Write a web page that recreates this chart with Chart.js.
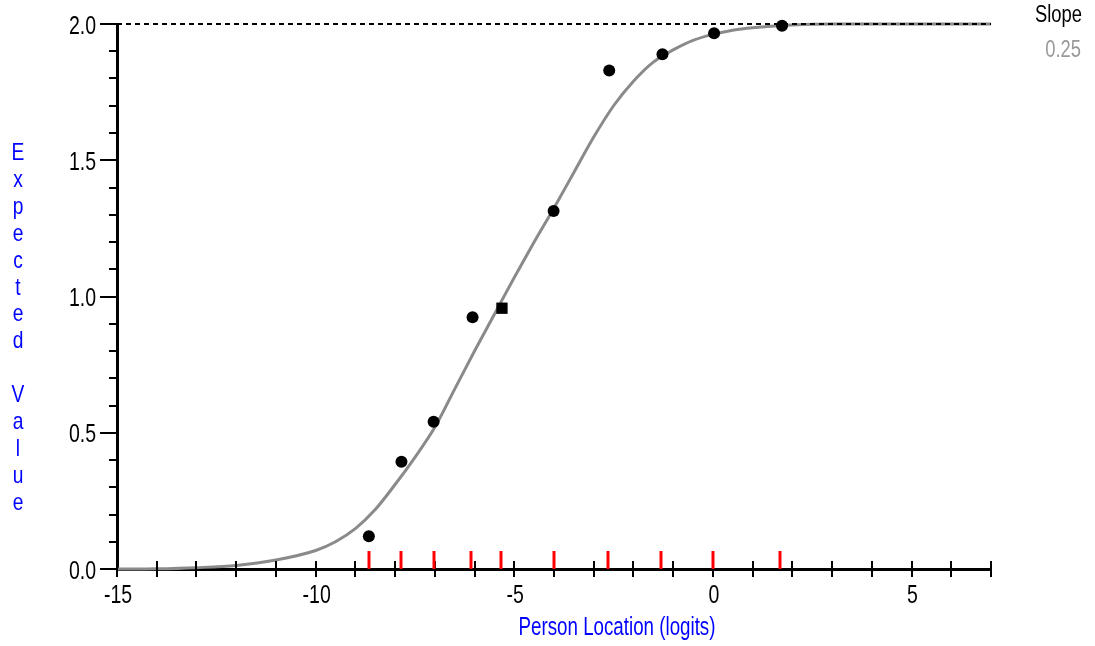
<!DOCTYPE html>
<html>
<head>
<meta charset="utf-8">
<script src="https://cdn.jsdelivr.net/npm/chart.js@4.4.1/dist/chart.umd.min.js"></script>
<style>
  html, body { margin: 0; padding: 0; background: #ffffff; }
  #wrap { width: 1095px; height: 646px; }
</style>
</head>
<body>
<div id="wrap"><canvas id="c" width="1095" height="646"></canvas></div>
<script>
// ---- data ----
const curveX = [-15, -14, -13, -12, -11, -10, -9.5, -9, -8.5, -8, -7.5, -7, -6.5, -6, -5.5, -5, -4.5, -4, -3.5, -3, -2.5, -2, -1.5, -1, -0.5, 0, 0.5, 1, 2, 3, 4, 5, 6, 7];
const curveY = [0, 0.001, 0.005, 0.013, 0.033, 0.068, 0.10, 0.148, 0.218, 0.31, 0.41, 0.52, 0.66, 0.80, 0.935, 1.07, 1.20, 1.325, 1.455, 1.585, 1.70, 1.79, 1.86, 1.905, 1.94, 1.962, 1.977, 1.986, 1.996, 2, 2, 2, 2, 2];

const obsX = [-8.66, -7.84, -7.03, -6.05, -5.31, -4.01, -2.61, -1.27, 0.03, 1.74];
const obsY = [0.12, 0.394, 0.54, 0.924, 0.957, 1.314, 1.829, 1.889, 1.966, 1.994];

const classLocs = [-8.66, -7.86, -7.03, -6.08, -5.33, -3.99, -2.65, -1.31, 0.0, 1.70];

const xTickValues = [-15, -10, -5, 0, 5];
const xTickLabels = ['-15', '-10', '-5', '0', '5'];
const xMinorTicks = [-15, -14, -13, -12, -11, -10, -9, -8, -7, -6, -5, -4, -3, -2, -1, 0, 1, 2, 3, 4, 5, 6, 7];

const yTickValues = [0, 0.5, 1, 1.5, 2];
const yTickLabels = ['0.0', '0.5', '1.0', '1.5', '2.0'];
const yMinorTicks = [0.1, 0.2, 0.3, 0.4, 0.6, 0.7, 0.8, 0.9, 1.1, 1.2, 1.3, 1.4, 1.6, 1.7, 1.8, 1.9];

const refLine = 2.0;
const slopeTitle = 'Slope';
const slopeValue = '0.25';
const yTitle = 'Expected Value';
const xTitle = 'Person Location (logits)';

// ---- drawing ----
const FONT = '"Liberation Sans", Arial, sans-serif';

function narrowText(ctx, text, x, y, align, size, color, sx) {
  ctx.save();
  ctx.font = size + 'px ' + FONT;
  ctx.fillStyle = color;
  ctx.textAlign = align;
  ctx.textBaseline = 'alphabetic';
  ctx.translate(x, y);
  ctx.scale(sx, 1);
  ctx.fillText(text, 0, 0);
  ctx.restore();
}

const extras = {
  id: 'extras',
  afterDatasetsDraw(chart) {
    const ctx = chart.ctx;
    const xs = chart.scales.x, ys = chart.scales.y;
    const y0 = ys.getPixelForValue(0);
    ctx.save();
    // x-axis ticks crossing the axis
    ctx.strokeStyle = '#000';
    ctx.lineWidth = 2;
    xMinorTicks.forEach(v => {
      const px = Math.round(xs.getPixelForValue(v));
      ctx.beginPath();
      ctx.moveTo(px, y0 - 8);
      ctx.lineTo(px, y0 + 8);
      ctx.stroke();
    });
    // red class-interval markers
    ctx.strokeStyle = '#ff0000';
    ctx.lineWidth = 3;
    classLocs.forEach(v => {
      const px = Math.round(xs.getPixelForValue(v));
      ctx.beginPath();
      ctx.moveTo(px, y0 - 18);
      ctx.lineTo(px, y0);
      ctx.stroke();
    });
    // y minor ticks
    ctx.strokeStyle = '#000';
    ctx.lineWidth = 2;
    const xl = chart.chartArea.left;
    yMinorTicks.forEach(v => {
      const py = Math.round(ys.getPixelForValue(v));
      ctx.beginPath();
      ctx.moveTo(xl - 8, py);
      ctx.lineTo(xl, py);
      ctx.stroke();
    });
    ctx.restore();
  },
  afterDraw(chart) {
    const ctx = chart.ctx;
    const xs = chart.scales.x, ys = chart.scales.y;
    // tick labels, placed through the scales
    yTickValues.forEach((v, i) => {
      narrowText(ctx, yTickLabels[i], 96, ys.getPixelForValue(v) + 9.5, 'right', 26, '#000', 0.75);
    });
    xTickValues.forEach((v, i) => {
      narrowText(ctx, xTickLabels[i], xs.getPixelForValue(v) + 1, 603, 'center', 26, '#000', 0.75);
    });
    // slope label
    narrowText(ctx, slopeTitle, 1082, 22, 'right', 23, '#000', 0.8);
    narrowText(ctx, slopeValue, 1081, 57, 'right', 23, '#999999', 0.8);
    // y title, stacked letters
    yTitle.split('').forEach((ch, k) => {
      if (ch !== ' ') narrowText(ctx, ch, 18, 160 + 26.9 * k, 'center', 24, '#0000ff', 0.8);
    });
    // x title
    narrowText(ctx, xTitle, 617, 635, 'center', 25, '#0000ff', 0.75);
  }
};

new Chart(document.getElementById('c'), {
  type: 'line',
  data: {
    datasets: [
      {
        label: 'Observed',
        data: obsX.map((x, i) => ({ x: x, y: obsY[i] })),
        showLine: false,
        pointStyle: ctx => (ctx.dataIndex === 4 ? 'rect' : 'circle'),
        pointRadius: ctx => (ctx.dataIndex === 4 ? 8 : 6),
        pointBackgroundColor: '#000',
        pointBorderColor: '#000',
        pointBorderWidth: 0,
        clip: false
      },
      {
        label: 'Max',
        data: [{ x: xMinorTicks[0], y: refLine }, { x: xMinorTicks[xMinorTicks.length - 1], y: refLine }],
        borderColor: '#000',
        borderWidth: 2,
        borderDash: [5, 4],
        pointRadius: 0,
        clip: false
      },
      {
        label: 'ICC',
        data: curveX.map((x, i) => ({ x: x, y: curveY[i] })),
        borderColor: '#8a8a8a',
        borderWidth: 3,
        pointRadius: 0,
        cubicInterpolationMode: 'monotone',
        clip: false
      }
    ]
  },
  options: {
    responsive: false,
    animation: false,
    devicePixelRatio: 1,
    layout: { padding: { top: 24, right: 104, left: 0, bottom: 0 } },
    plugins: { legend: { display: false }, tooltip: { enabled: false } },
    scales: {
      x: {
        type: 'linear',
        min: -15,
        max: 7,
        afterBuildTicks: s => { s.ticks = xTickValues.map(v => ({ value: v })); },
        afterFit: s => { s.height = 77; },
        ticks: { display: false },
        grid: { display: false },
        border: { display: true, color: '#000', width: 3 }
      },
      y: {
        type: 'linear',
        min: 0,
        max: 2,
        afterBuildTicks: s => { s.ticks = yTickValues.map(v => ({ value: v })); },
        afterFit: s => { s.width = 117; },
        ticks: { display: false },
        grid: { drawOnChartArea: false, drawTicks: true, tickLength: 17, color: '#000', lineWidth: 2 },
        border: { display: true, color: '#000', width: 3 }
      }
    }
  },
  plugins: [extras]
});
</script>
</body>
</html>
